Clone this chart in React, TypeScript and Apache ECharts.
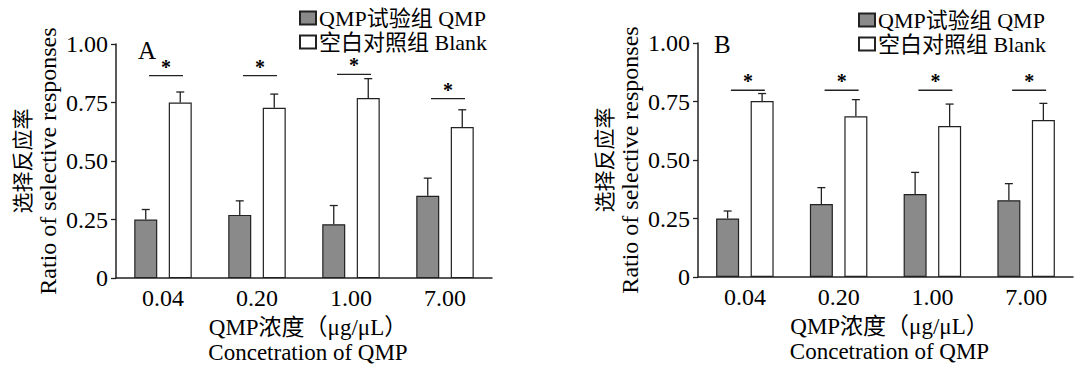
import React, { useEffect, useRef } from "react";
import * as echarts from "echarts";

const categories = ["0.04", "0.20", "1.00", "7.00"];

const qmpA = [0.25, 0.27, 0.23, 0.352];
const qmpErrA = [0.043, 0.06, 0.08, 0.075];
const blankA = [0.75, 0.728, 0.769, 0.645];
const blankErrA = [0.045, 0.058, 0.083, 0.074];
const sigA = [0.865, 0.865, 0.87, 0.767];

const qmpB = [0.25, 0.312, 0.355, 0.328];
const qmpErrB = [0.032, 0.07, 0.092, 0.071];
const blankB = [0.752, 0.687, 0.645, 0.671];
const blankErrB = [0.032, 0.071, 0.094, 0.071];
const sigB = [0.798, 0.798, 0.798, 0.798];

const yTickLabels = ["0", "0.25", "0.50", "0.75", "1.00"];
const seriesNames = ["QMP试验组 QMP", "空白对照组 Blank"];
const panelLabels = ["A", "B"];
const yTitleCn = "选择反应率";
const yTitleEn = "Ratio of selective responses";
const xTitle = "QMP浓度（μg/μL）\nConcetration of QMP";

const FONT = "'Liberation Serif', 'Noto Sans CJK SC', serif";
const INK = "#222";
const BAR_W = 23;
const HALF = 17.25;

function errSeries(gi: number, vals: number[], errs: number[], offset: number) {
  return {
    type: "custom",
    xAxisIndex: gi,
    yAxisIndex: gi,
    z: 5,
    silent: true,
    data: vals.map((v, i) => [i, v, errs[i]]),
    encode: { x: 0, y: 1 },
    renderItem: (params: any, api: any) => {
      const idx = api.value(0);
      const v = api.value(1);
      const e = api.value(2);
      const base = api.coord([idx, v]);
      const top = api.coord([idx, v + e]);
      const cx = base[0] + offset;
      const st = { stroke: INK, lineWidth: 1.3 };
      return {
        type: "group",
        children: [
          { type: "line", shape: { x1: cx, y1: base[1], x2: cx, y2: top[1] }, style: st },
          { type: "line", shape: { x1: cx - 4, y1: top[1], x2: cx + 4, y2: top[1] }, style: st },
        ],
      };
    },
  };
}

function sigSeries(gi: number, vals: number[]) {
  return {
    type: "custom",
    xAxisIndex: gi,
    yAxisIndex: gi,
    z: 5,
    silent: true,
    data: vals.map((v, i) => [i, v]),
    encode: { x: 0, y: 1 },
    renderItem: (params: any, api: any) => {
      const p = api.coord([api.value(0), api.value(1)]);
      return {
        type: "group",
        children: [
          {
            type: "line",
            shape: { x1: p[0] - 14, y1: p[1], x2: p[0] + 20, y2: p[1] },
            style: { stroke: INK, lineWidth: 1.3 },
          },
          {
            type: "text",
            x: p[0] + 3,
            y: p[1] - 9,
            style: {
              text: "*",
              fontSize: 20,
              lineHeight: 12,
              fontWeight: "bold",
              fontFamily: FONT,
              fill: "#000",
              align: "center",
              verticalAlign: "middle",
            },
          },
        ],
      };
    },
  };
}

function barSeries(gi: number, name: string, vals: number[], color: string) {
  return {
    type: "bar",
    name,
    xAxisIndex: gi,
    yAxisIndex: gi,
    data: vals,
    barWidth: BAR_W,
    barGap: "50%",
    itemStyle: { color, borderColor: INK, borderWidth: 1.2 },
  };
}

export default function App() {
  const ref = useRef<HTMLDivElement>(null);
  useEffect(() => {
    document.body.style.margin = "0";
    const chart = echarts.init(ref.current!, null, { renderer: "svg" });
    const grids = [
      { left: 116, top: 44, width: 376, height: 235 },
      { left: 698, top: 43, width: 375, height: 234 },
    ];
    const xAxes = grids.map((g, gi) => ({
      type: "category",
      gridIndex: gi,
      data: categories,
      boundaryGap: true,
      axisLine: { lineStyle: { color: INK, width: 1.5 } },
      axisTick: { alignWithLabel: true, length: 5, lineStyle: { color: INK, width: 1.3 } },
      axisLabel: { color: "#000", fontSize: 24, fontFamily: FONT, margin: 8 },
      name: xTitle,
      nameLocation: "middle",
      nameGap: 36,
      nameTextStyle: { color: "#000", fontSize: 23, fontFamily: FONT, lineHeight: 25, padding: [0, 0, 0, 8] },
    }));
    const yAxes = grids.map((g, gi) => ({
      type: "value",
      gridIndex: gi,
      min: 0,
      max: 1,
      interval: 0.25,
      splitLine: { show: false },
      axisLine: { show: true, lineStyle: { color: INK, width: 1.5 } },
      axisTick: { show: true, length: 5, lineStyle: { color: INK, width: 1.3 } },
      axisLabel: {
        color: "#000",
        fontSize: 24,
        fontFamily: FONT,
        margin: 8,
        formatter: (v: number) => yTickLabels[Math.round(v / 0.25)],
      },
      name: "{cn|" + yTitleCn + "}\n{en|" + yTitleEn + "}",
      nameLocation: "middle",
      nameRotate: 90,
      nameGap: 56,
      nameTextStyle: {
        color: "#000",
        fontFamily: FONT,
        rich: {
          cn: { fontSize: 21, lineHeight: 25, fontFamily: FONT, color: "#000" },
          en: { fontSize: 24, lineHeight: 25, fontFamily: FONT, color: "#000" },
        },
      },
    }));
    const legendBase = {
      orient: "vertical",
      itemWidth: 16,
      itemHeight: 13,
      itemGap: 2,
      padding: 0,
      icon: "rect",
      data: seriesNames,
      textStyle: { color: "#000", fontSize: 22, lineHeight: 22, fontFamily: FONT, padding: [0, 0, 0, -2] },
    };
    chart.setOption({
      animation: false,
      grid: grids,
      xAxis: xAxes,
      yAxis: yAxes,
      legend: [
        { ...legendBase, left: 299, top: 7 },
        { ...legendBase, left: 858, top: 9 },
      ],
      graphic: [
        { type: "text", left: 138, top: 38, style: { text: panelLabels[0], fontSize: 25, fontFamily: FONT, fill: "#000" } },
        { type: "text", left: 714, top: 32, style: { text: panelLabels[1], fontSize: 25, fontFamily: FONT, fill: "#000" } },
      ],
      series: [
        barSeries(0, seriesNames[0], qmpA, "#8a8a8a"),
        barSeries(0, seriesNames[1], blankA, "#ffffff"),
        errSeries(0, qmpA, qmpErrA, -HALF),
        errSeries(0, blankA, blankErrA, HALF),
        sigSeries(0, sigA),
        barSeries(1, seriesNames[0], qmpB, "#8a8a8a"),
        barSeries(1, seriesNames[1], blankB, "#ffffff"),
        errSeries(1, qmpB, qmpErrB, -HALF),
        errSeries(1, blankB, blankErrB, HALF),
        sigSeries(1, sigB),
      ],
    });
    return () => chart.dispose();
  }, []);
  return <div ref={ref} style={{ width: 1087, height: 370 }} />;
}
